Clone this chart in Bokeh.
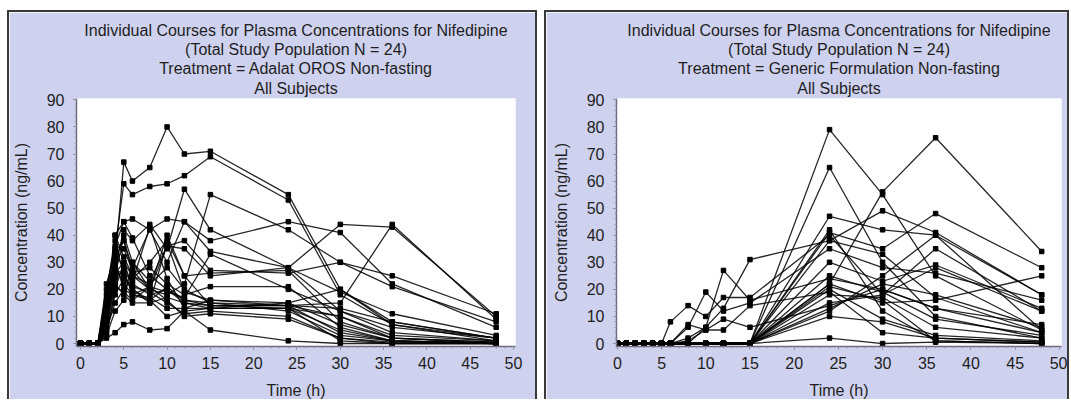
from bokeh.plotting import figure
from bokeh.models import Range1d, Title, FixedTicker, SingleIntervalTicker
from bokeh.layouts import row
from bokeh.embed import file_html
from bokeh.resources import INLINE

# ---------------- data ----------------
times = [0, 1, 2, 3, 4, 5, 6, 8, 10, 12, 15, 24, 30, 36, 48]

adalat = [
    [0, 0, 0, 5, 30, 67, 60, 65, 80, 70, 71, 55, 20, 8, 2],
    [0, 0, 0, 8, 35, 59, 55, 58, 59, 62, 69, 53, 18, 7, 1],
    [0, 0, 0, 12, 40, 45, 46, 42, 46, 45, 38, 45, 41, 22, 6],
    [0, 0, 0, 6, 28, 42, 38, 44, 35, 57, 42, 28, 12, 4, 1],
    [0, 0, 0, 3, 20, 30, 25, 20, 18, 22, 55, 42, 30, 25, 11],
    [0, 0, 0, 10, 25, 40, 30, 20, 36, 38, 27, 26, 30, 21, 8],
    [0, 0, 0, 15, 32, 38, 28, 42, 30, 45, 34, 28, 19, 11, 3],
    [0, 0, 0, 20, 36, 45, 39, 25, 20, 15, 14, 14, 13, 8, 2],
    [0, 0, 0, 2, 4, 7, 8, 5, 5.5, 12, 13, 13, 10, 3, 1],
    [0, 0, 0, 4, 18, 24, 20, 16, 10, 12, 5, 1, 0, 0, 0],
    [0, 0, 0, 22, 33, 28, 22, 18, 20, 16, 15, 14, 10, 2, 0.5],
    [0, 0, 0, 12, 30, 35, 27, 20, 40, 25, 14, 13, 5, 1, 0],
    [0, 0, 0, 8, 22, 18, 15, 15, 17, 15, 13, 15, 20, 7, 2],
    [0, 0, 0, 5, 15, 20, 24, 30, 38, 25, 26, 27, 8, 2, 0],
    [0, 0, 0, 18, 40, 32, 25, 22, 28, 20, 15, 12, 3, 1, 0],
    [0, 0, 0, 9, 26, 30, 21, 19, 15, 11, 12, 10, 2, 0.5, 0],
    [0, 0, 0, 14, 34, 38, 26, 28, 22, 18, 21, 21, 6, 1, 0],
    [0, 0, 0, 7, 24, 27, 18, 17, 13, 13, 16, 15, 7, 2, 0.5],
    [0, 0, 0, 3, 12, 16, 30, 23, 36, 35, 25, 28, 44, 43, 10],
    [0, 0, 0, 11, 29, 22, 18, 21, 16, 10, 11, 9, 2, 0, 0],
    [0, 0, 0, 16, 38, 25, 20, 15, 37, 19, 16, 14, 4, 1, 0],
    [0, 0, 0, 6, 21, 19, 16, 21, 19, 17, 33, 20, 12, 6, 2],
    [0, 0, 0, 13, 27, 26, 23, 43, 24, 13, 13, 13, 1, 0, 0],
    [0, 0, 0, 10, 30, 20, 18, 16, 21, 16, 14, 14, 15, 44, 9],
]

generic = [
    [0, 0, 0, 0, 0, 0, 0, 0, 0, 0, 0, 79, 55, 25, 5],
    [0, 0, 0, 0, 0, 0, 0, 0, 0, 0, 0, 22, 56, 76, 34],
    [0, 0, 0, 0, 0, 0, 0, 0, 0, 0, 0, 65, 30, 10, 2],
    [0, 0, 0, 0, 0, 0, 0, 0, 0, 0, 0, 47, 42, 40, 18],
    [0, 0, 0, 0, 0, 0, 0, 0, 0, 0, 0, 38, 49, 41, 18],
    [0, 0, 0, 0, 0, 0, 0, 0, 0, 0, 0, 41, 35, 48, 28],
    [0, 0, 0, 0, 0, 0, 8, 14, 10, 17, 17, 40, 18, 28, 12],
    [0, 0, 0, 0, 0, 0, 0, 6, 19, 12, 15, 35, 28, 26, 16],
    [0, 0, 0, 0, 0, 0, 0, 0, 6, 27, 16, 24, 20, 13, 7],
    [0, 0, 0, 0, 0, 0, 0, 2, 6, 13, 31, 38, 33, 17, 4],
    [0, 0, 0, 0, 0, 0, 0, 0, 0, 0, 0, 30, 23, 29, 13],
    [0, 0, 0, 0, 0, 0, 0, 0, 0, 0, 0, 20, 9, 3, 1],
    [0, 0, 0, 0, 0, 0, 0, 0, 0, 0, 0, 18, 17, 6, 2],
    [0, 0, 0, 0, 0, 0, 0, 0, 0, 0, 0, 15, 18, 35, 12],
    [0, 0, 0, 0, 0, 0, 0, 0, 0, 0, 0, 12, 25, 40, 5],
    [0, 0, 0, 0, 0, 0, 0, 0, 0, 0, 0, 10, 8, 2, 0.5],
    [0, 0, 0, 0, 0, 0, 0, 0, 0, 0, 0, 2, 0, 0.5, 0],
    [0, 0, 0, 0, 0, 0, 0, 0, 0, 0, 0, 25, 19, 9, 3],
    [0, 0, 0, 0, 0, 0, 0, 0, 0, 0, 0, 22, 15, 16, 25],
    [0, 0, 0, 0, 0, 0, 0, 0, 0, 0, 0, 21, 16, 1, 0],
    [0, 0, 0, 0, 0, 0, 0, 1, 5, 9, 6, 14, 20, 13, 4],
    [0, 0, 0, 0, 0, 0, 0, 7, 5, 5, 14, 19, 4, 2, 0.5],
    [0, 0, 0, 0, 0, 0, 0, 0, 0, 0, 0, 42, 12, 1, 0],
    [0, 0, 0, 0, 0, 0, 0, 0, 0, 0, 0, 13, 22, 18, 6],
]

title_lines = [
    "Individual Courses for Plasma Concentrations for Nifedipine",
    "(Total Study Population N = 24)",
]
treatments = ["Treatment = Adalat OROS Non-fasting",
              "Treatment = Generic Formulation Non-fasting"]
subtitle = "All Subjects"
x_ticks = list(range(0, 51, 5))
x_label = "Time (h)"
y_label = "Concentration (ng/mL)"

BG = "#cfd2ef"
FONT = "Liberation Sans"
TXT = "#1e1e1e"


def make_panel(series, treatment, width, left, right, xr, margin, styles):
    p = figure(width=width, height=389,
               x_range=Range1d(*xr), y_range=Range1d(-1.1, 90.5),
               output_backend="svg", toolbar_location=None,
               min_border_left=left, min_border_right=right,
               min_border_top=86, min_border_bottom=53,
               background_fill_color="white", border_fill_color=BG,
               outline_line_color=None)
    for s in series:
        p.line(times, s, line_color="black", line_width=1.3, line_alpha=0.85)
        p.scatter(times, s, marker="square", size=4.5, color="black")

    texts = [subtitle, treatment] + title_lines[::-1]
    for i, txt in enumerate(texts):
        t = Title(text=txt, align="center", text_font=FONT,
                  text_font_size="16px", text_font_style="normal",
                  text_color=TXT, standoff=3 if i == 0 else 0, offset=0)
        p.add_layout(t, "above")

    p.xaxis.ticker = FixedTicker(ticks=x_ticks,
                                 minor_ticks=[i for i in range(0, 51)])
    p.yaxis.ticker = SingleIntervalTicker(interval=10, num_minor_ticks=5)
    p.grid.visible = False
    for ax in (p.xaxis, p.yaxis):
        ax.axis_line_color = "#6c6c80"
        ax.axis_line_width = 1.5
        ax.major_tick_line_color = "#6c6c80"
        ax.minor_tick_line_color = "#9a9ab0"
        ax.major_tick_out = 3
        ax.major_tick_in = 0
        ax.minor_tick_out = 2
        ax.minor_tick_in = 0
        ax.major_label_text_font = FONT
        ax.major_label_text_font_size = "16px"
        ax.major_label_text_color = TXT
        ax.axis_label_text_font = FONT
        ax.axis_label_text_font_size = "16px"
        ax.axis_label_text_font_style = "normal"
        ax.axis_label_text_color = TXT
    p.xaxis.axis_label = x_label
    p.yaxis.axis_label = y_label
    p.xaxis.major_label_standoff = 7
    p.yaxis.major_label_standoff = 9
    p.xaxis.axis_label_standoff = 10
    p.yaxis.axis_label_standoff = 14
    p.margin = margin
    p.styles = styles
    return p


border = "2px solid #3a3a3a"
p1 = make_panel(adalat, treatments[0], 530, 67, 24, (-0.46, 50.23),
                (10, 0, 0, 7),
                {"border-top": border, "border-left": border,
                 "border-right": border})
p2 = make_panel(generic, treatments[1], 525, 70, 10, (-0.1, 50.24),
                (10, 0, 0, 7),
                {"border-top": border, "border-left": border,
                 "border-right": border})

layout = row(p1, p2)
open("out.html", "w").write(file_html(layout, INLINE))
